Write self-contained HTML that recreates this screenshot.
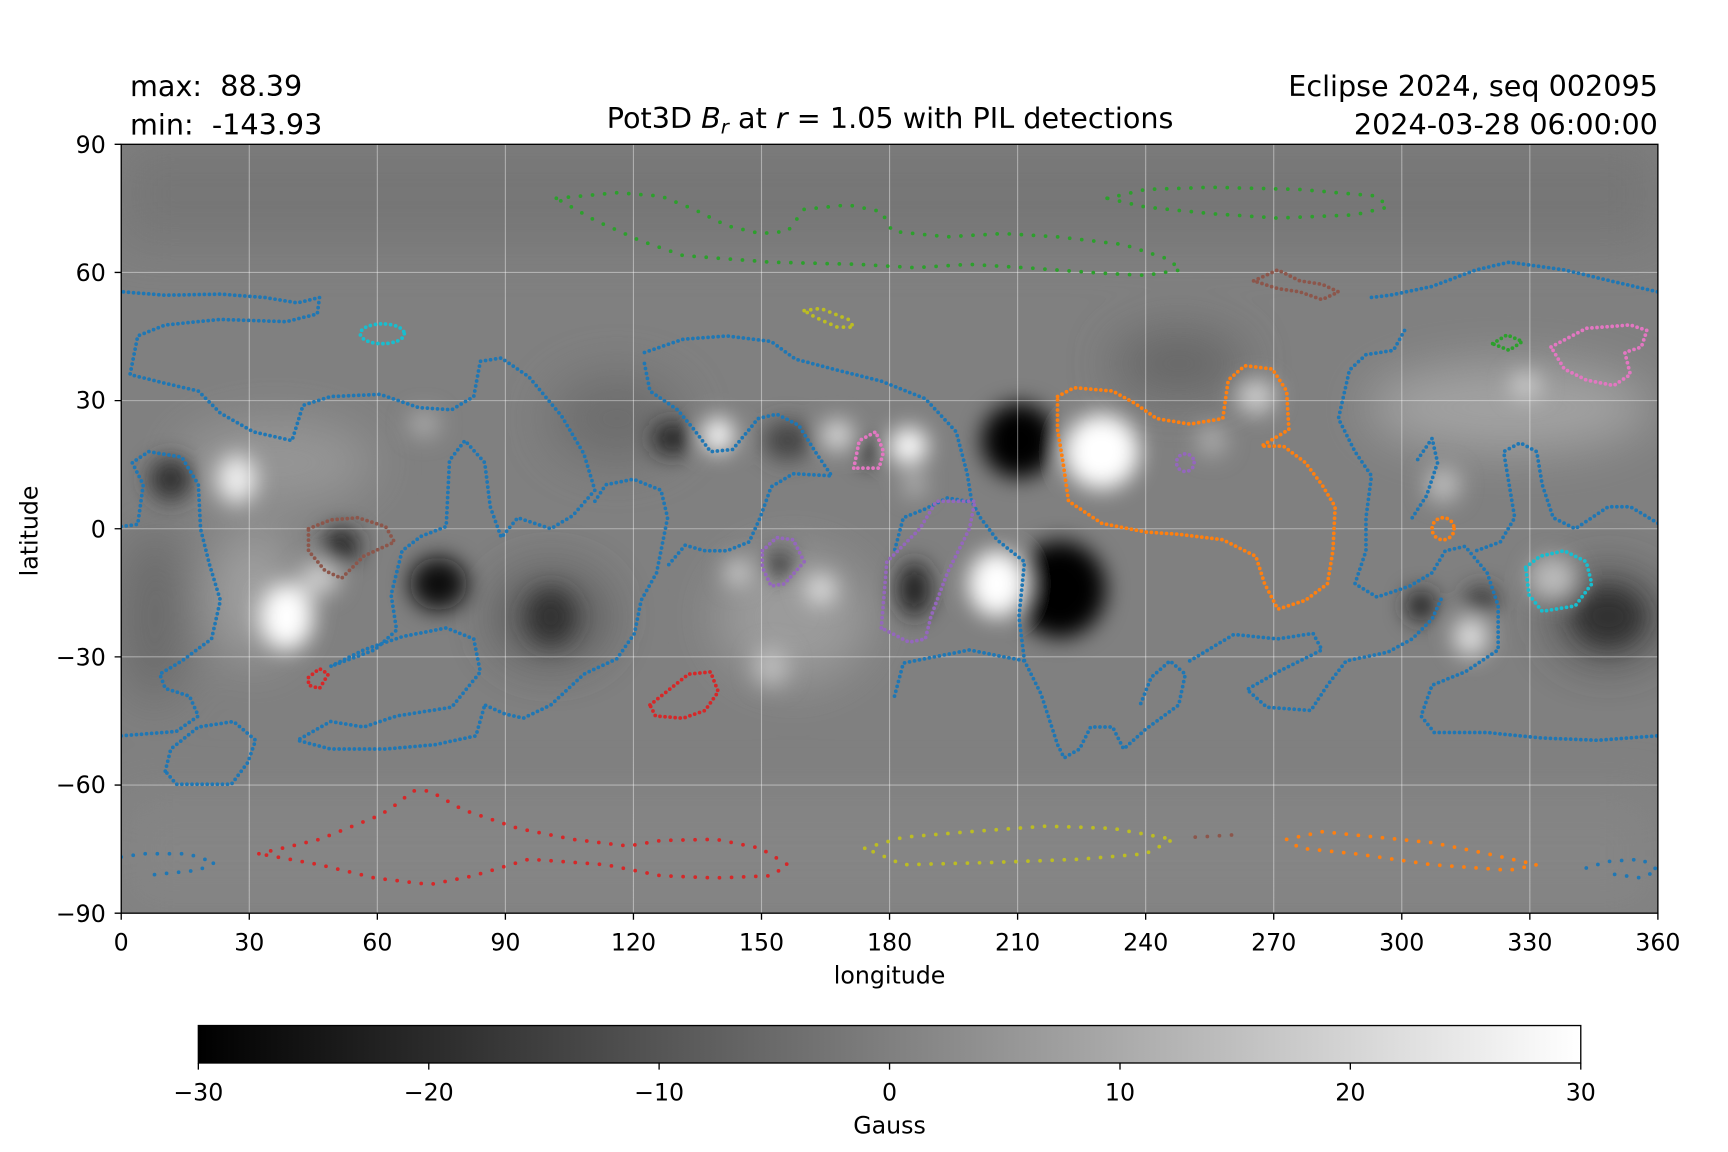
<!DOCTYPE html>
<html><head><meta charset="utf-8"><style>html,body{margin:0;padding:0;background:#fff}svg{display:block}</style></head><body>
<svg width="1728" height="1152" viewBox="0 0 1568.6 1045.8" xmlns="http://www.w3.org/2000/svg" font-family="'DejaVu Sans','Liberation Sans',sans-serif">
<defs>
<clipPath id="c"><rect x="110" y="131" width="1395" height="698"/></clipPath>
<filter id="b" x="-50%" y="-50%" width="200%" height="200%"><feGaussianBlur stdDeviation="10"/></filter>
<filter id="b2" x="-50%" y="-50%" width="200%" height="200%"><feGaussianBlur stdDeviation="22"/></filter>
<linearGradient id="g"><stop offset="0" stop-color="#000"/><stop offset="1" stop-color="#fff"/></linearGradient>
</defs>
<g clip-path="url(#c)">
<rect x="110" y="131" width="1395" height="698" fill="#808080"/>
<g filter="url(#b2)" opacity="0.85">
<rect x="110" y="131" width="1395" height="90" fill="#747474"/>
<rect x="110" y="720" width="1395" height="109" fill="#868686"/>
<ellipse cx="1370" cy="370" rx="130" ry="40" fill="#a8a8a8"/>
<ellipse cx="250" cy="420" rx="90" ry="40" fill="#9a9a9a"/>
<ellipse cx="1070" cy="330" rx="60" ry="30" fill="#626262"/>
<ellipse cx="500" cy="560" rx="50" ry="40" fill="#505050"/>
<ellipse cx="720" cy="560" rx="70" ry="60" fill="#a0a0a0"/>
<ellipse cx="1460" cy="560" rx="50" ry="40" fill="#404040"/>
<ellipse cx="140" cy="560" rx="30" ry="80" fill="#666"/>
<ellipse cx="560" cy="380" rx="60" ry="40" fill="#6a6a6a"/>
<ellipse cx="230" cy="540" rx="40" ry="60" fill="#a5a5a5"/>
</g>
<g filter="url(#b)">
<ellipse cx="925" cy="400" rx="34" ry="34" fill="#000"/>
<ellipse cx="962" cy="535" rx="42" ry="44" fill="#000"/>
<ellipse cx="398" cy="530" rx="26" ry="24" fill="#0a0a0a"/>
<ellipse cx="155" cy="435" rx="20" ry="20" fill="#333"/>
<ellipse cx="310" cy="495" rx="16" ry="16" fill="#222"/>
<ellipse cx="500" cy="560" rx="22" ry="25" fill="#333"/>
<ellipse cx="610" cy="398" rx="18" ry="15" fill="#222"/>
<ellipse cx="715" cy="400" rx="22" ry="18" fill="#444"/>
<ellipse cx="830" cy="535" rx="15" ry="25" fill="#222"/>
<ellipse cx="790" cy="410" rx="10" ry="12" fill="#222"/>
<ellipse cx="1290" cy="550" rx="14" ry="14" fill="#222"/>
<ellipse cx="1345" cy="545" rx="15" ry="12" fill="#333"/>
<ellipse cx="1460" cy="560" rx="30" ry="25" fill="#333"/>
<ellipse cx="708" cy="512" rx="12" ry="12" fill="#333"/>
<ellipse cx="1000" cy="410" rx="34" ry="34" fill="#fff"/>
<ellipse cx="905" cy="530" rx="26" ry="30" fill="#fff"/>
<ellipse cx="652" cy="395" rx="14" ry="16" fill="#fff"/>
<ellipse cx="825" cy="405" rx="17" ry="17" fill="#fff"/>
<ellipse cx="830" cy="440" rx="10" ry="10" fill="#bbb"/>
<ellipse cx="260" cy="560" rx="24" ry="30" fill="#fff"/>
<ellipse cx="215" cy="435" rx="18" ry="22" fill="#eee"/>
<ellipse cx="290" cy="525" rx="18" ry="15" fill="#ccc"/>
<ellipse cx="700" cy="605" rx="16" ry="18" fill="#bbb"/>
<ellipse cx="745" cy="535" rx="14" ry="14" fill="#ddd"/>
<ellipse cx="670" cy="520" rx="12" ry="12" fill="#ccc"/>
<ellipse cx="760" cy="395" rx="14" ry="14" fill="#ddd"/>
<ellipse cx="1140" cy="360" rx="18" ry="16" fill="#ccc"/>
<ellipse cx="1100" cy="400" rx="14" ry="14" fill="#aaa"/>
<ellipse cx="1335" cy="578" rx="16" ry="18" fill="#ddd"/>
<ellipse cx="1310" cy="440" rx="16" ry="16" fill="#bbb"/>
<ellipse cx="1385" cy="350" rx="14" ry="12" fill="#ccc"/>
<ellipse cx="1410" cy="525" rx="22" ry="20" fill="#bbb"/>
<ellipse cx="385" cy="385" rx="14" ry="12" fill="#aaa"/>
</g>
<g stroke="#fff" stroke-opacity="0.4" stroke-width="1">
<path d="M226.25 131V829M342.5 131V829M458.75 131V829M575 131V829M691.25 131V829M807.5 131V829M923.75 131V829M1040 131V829M1156.25 131V829M1272.5 131V829M1388.75 131V829"/>
<path d="M110 247.3H1505M110 363.7H1505M110 480H1505M110 596.3H1505M110 712.7H1505"/>
</g>
<g fill="none" stroke-width="3.4" stroke-linecap="round" stroke-dasharray="0 4.6">
<g stroke="#1f77b4">
<path d="M112 265L150 268L200 267L240 270L270 275L290 270L288 285L260 292L200 290L150 295L125 305L118 340L150 348L180 355L200 375L230 392L265 400L275 368L300 360L345 358L380 370L410 372L430 360L436 328L455 325L480 342L510 378L530 412L540 445L520 468L500 480L470 470L455 488L445 460L440 420L422 400L408 418L405 478L382 487L365 500L355 540L360 572L340 590L300 605L330 590L365 578L405 570L430 580L436 610L410 642L360 650L330 660L300 655L270 672L300 680L350 680L395 676L432 668L440 640"/>
<path d="M110 478L125 476L130 440L120 420L135 410L165 415L180 440L182 480L190 512L200 545L192 580L165 600L145 612L150 625L172 632L180 650L160 664L110 668"/>
<path d="M150 700L155 680L180 660L212 655L232 672L225 692L210 712L160 712Z"/>
<path d="M540 455L550 440L575 435L600 445L606 470L596 520L582 545L576 575L560 598L530 612L500 640L475 652L458 648L440 640"/>
<path d="M585 320L620 308L660 305L700 310L722 326L760 336L800 346L840 362L868 392L878 430L882 455L890 470L905 490L930 510L925 560L930 600L945 630L960 676L966 688L980 680L990 660L1010 660L1020 680L1040 662L1070 640L1076 612L1062 600L1045 615L1035 640"/>
<path d="M585 330L590 355L615 372L630 390L645 410L665 408L680 390L688 380L705 376L725 386L740 410L755 432L720 430L700 442L690 470L680 492L660 500L640 500L622 495L605 515"/>
<path d="M878 455L860 452L840 462L820 470L812 500"/>
<path d="M812 632L820 602L850 596L880 590L930 600"/>
<path d="M1080 600L1120 576L1160 580L1192 575L1200 590L1160 610L1132 626L1150 642L1190 645L1205 622L1222 600L1260 592L1282 580L1300 562L1310 540"/>
<path d="M1245 270L1262 268L1300 260L1340 245L1370 238L1420 245L1462 255L1505 265"/>
<path d="M1275 300L1265 318L1240 322L1225 336L1215 380L1230 410L1245 432L1240 470L1240 500L1230 530L1250 542L1280 532L1300 520L1312 500L1330 496L1350 520L1360 550L1360 590L1330 610L1300 622L1290 650L1302 665L1350 665L1400 670L1450 672L1505 668"/>
<path d="M1505 475L1480 460L1460 460L1430 480L1410 470L1400 440L1395 410L1380 402L1365 410L1370 440L1375 470L1362 492L1340 500"/>
<path d="M1282 470L1295 450L1305 420L1300 398L1285 420"/>
</g>
<path stroke="#ff7f0e" d="M960 360L975 352L1010 355L1030 366L1050 380L1080 385L1110 380L1115 345L1130 332L1155 335L1168 355L1170 390L1145 405L1165 405L1185 420L1200 440L1212 460L1210 500L1205 530L1185 545L1160 553L1148 530L1140 505L1110 490L1070 485L1040 483L1000 475L970 455L965 420L960 390Z"/>
<circle stroke="#ff7f0e" cx="1310" cy="480" r="10"/>
<path stroke="#2ca02c" d="M1355 312L1368 304L1382 310L1370 318Z"/>
<ellipse stroke="#17becf" cx="347" cy="303" rx="20" ry="9"/>
<path stroke="#17becf" d="M1385 515L1398 505L1420 500L1440 510L1445 530L1430 550L1400 555L1388 540Z"/>
<path stroke="#d62728" d="M280 615L290 607L298 612L290 625L280 622Z"/>
<path stroke="#d62728" d="M590 640L605 628L625 612L645 610L652 628L640 645L620 652L595 650Z"/>
<path stroke="#8c564b" d="M280 480L300 472L325 470L350 478L358 492L330 505L310 525L295 518L280 500Z"/>
<path stroke="#8c564b" d="M1138 255L1160 245L1180 255L1200 258L1215 265L1200 272L1180 265L1160 262Z"/>
<path stroke="#e377c2" d="M775 425L780 400L795 392L802 410L798 425Z"/>
<path stroke="#e377c2" d="M1408 315L1440 298L1480 295L1495 300L1490 315L1475 320L1480 340L1465 350L1440 345L1420 335Z"/>
<path stroke="#9467bd" d="M692 500L705 488L720 490L730 510L712 530L700 532L692 515Z"/>
<path stroke="#9467bd" d="M800 570L805 510L835 480L850 455L885 455L880 480L860 520L845 560L840 580L825 583Z"/>
<circle stroke="#9467bd" cx="1076" cy="420" r="8"/>
</g>
<g fill="none" stroke-width="3.4" stroke-linecap="round" stroke-dasharray="0 11">
<path stroke="#2ca02c" d="M505 180L560 175L600 178L630 190L660 205L690 212L715 210L730 190L770 186L800 192L810 210L860 215L910 212L960 215L1020 222L1060 235L1072 245L1040 250L1000 248L930 243L880 240L830 243L780 240L700 238L620 232L580 218L540 200Z"/>
<path stroke="#2ca02c" d="M1005 180L1040 172L1100 170L1180 172L1250 178L1260 188L1230 195L1160 198L1100 194L1040 188Z"/>
<path stroke="#bcbd22" stroke-dasharray="0 6" d="M730 282L745 280L770 290L775 297L760 297L740 288Z"/>
<path stroke="#bcbd22" d="M785 770L820 760L880 755L950 750L1010 752L1065 762L1040 775L980 780L900 783L820 785Z"/>
<path stroke="#d62728" d="M235 775L290 762L345 740L360 730L375 718L390 718L420 735L470 752L520 762L570 768L600 763L650 762L690 770L715 785L700 795L650 797L600 795L550 785L480 780L430 795L390 803L340 797L290 785Z"/>
<path stroke="#8c564b" d="M1085 760L1118 758"/>
<path stroke="#ff7f0e" d="M1168 762L1200 755L1250 760L1300 765L1350 775L1395 785L1370 790L1300 785L1230 775L1180 770Z"/>
<path stroke="#1f77b4" d="M110 778L130 775L170 775L195 783L180 790L130 795"/>
<path stroke="#1f77b4" d="M1440 788L1460 782L1490 780L1505 790L1490 797L1460 793"/>
</g>
</g>
<rect x="110" y="131" width="1395" height="698" fill="none" stroke="#000" stroke-width="1.2"/>
<g stroke="#000" stroke-width="1.2">
<path d="M110 829v6M226.25 829v6M342.5 829v6M458.75 829v6M575 829v6M691.25 829v6M807.5 829v6M923.75 829v6M1040 829v6M1156.25 829v6M1272.5 829v6M1388.75 829v6M1505 829v6"/>
<path d="M110 131h-6M110 247.3h-6M110 363.7h-6M110 480h-6M110 596.3h-6M110 712.7h-6M110 829h-6"/>
</g>
<g font-size="21.5" fill="#000" text-anchor="middle">
<text x="110" y="863">0</text><text x="226.25" y="863">30</text><text x="342.5" y="863">60</text><text x="458.75" y="863">90</text><text x="575" y="863">120</text><text x="691.25" y="863">150</text><text x="807.5" y="863">180</text><text x="923.75" y="863">210</text><text x="1040" y="863">240</text><text x="1156.25" y="863">270</text><text x="1272.5" y="863">300</text><text x="1388.75" y="863">330</text><text x="1505" y="863">360</text>
<text x="807.5" y="893">longitude</text>
</g>
<g font-size="21.5" fill="#000" text-anchor="end">
<text x="96" y="139">90</text><text x="96" y="255">60</text><text x="96" y="371">30</text><text x="96" y="488">0</text><text x="96" y="604">−30</text><text x="96" y="720">−60</text><text x="96" y="837">−90</text>
</g>
<text transform="translate(34,482) rotate(-90)" font-size="21.5" text-anchor="middle">latitude</text>
<g font-size="26" fill="#000">
<text x="118" y="87">max:&#160; 88.39</text>
<text x="118" y="122">min:&#160; -143.93</text>
<text x="1505" y="87" text-anchor="end">Eclipse 2024, seq 002095</text>
<text x="1505" y="122" text-anchor="end">2024-03-28 06:00:00</text>
<text x="808" y="116" text-anchor="middle">Pot3D <tspan font-style="italic">B</tspan><tspan font-style="italic" font-size="18" dy="5">r</tspan><tspan dy="-5"> at </tspan><tspan font-style="italic">r</tspan> = 1.05 with PIL detections</text>
</g>
<rect x="180" y="931" width="1255" height="34" fill="url(#g)" stroke="#000" stroke-width="1.2"/>
<g stroke="#000" stroke-width="1.2"><path d="M180 965v6M389.2 965v6M598.3 965v6M807.5 965v6M1016.7 965v6M1225.8 965v6M1435 965v6"/></g>
<g font-size="21.5" text-anchor="middle">
<text x="180" y="999">−30</text><text x="389.2" y="999">−20</text><text x="598.3" y="999">−10</text><text x="807.5" y="999">0</text><text x="1016.7" y="999">10</text><text x="1225.8" y="999">20</text><text x="1435" y="999">30</text>
<text x="807.5" y="1029">Gauss</text>
</g>
</svg>
</body></html>
